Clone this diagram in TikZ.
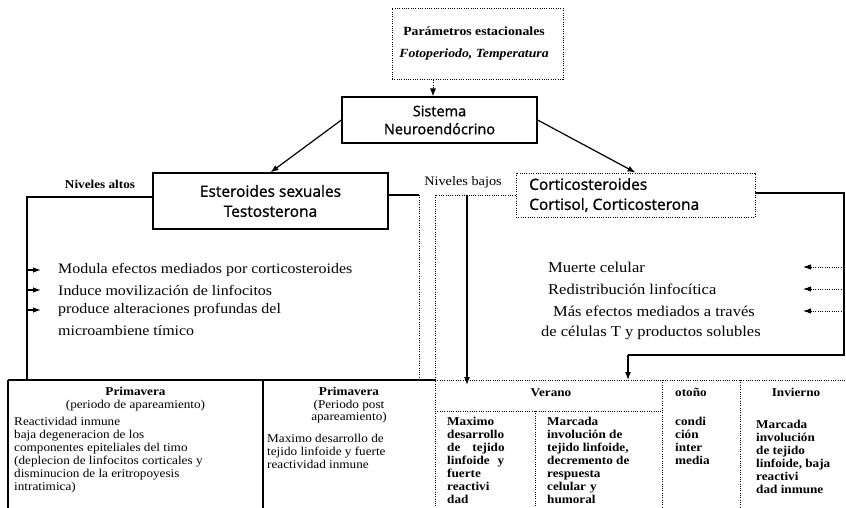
\documentclass[tikz,border=0pt]{standalone}
\usepackage{fontspec}
\setmainfont{Liberation Serif}[FakeStretch=1.1]
\newfontfamily\sansbox{Open Sans}[FakeBold=1.2]
\usetikzlibrary{arrows.meta}
\begin{document}
\begin{tikzpicture}[x=1pt,y=-1pt,
  solidbox/.style={draw, line width=1.2pt, inner sep=0pt},
  dotbox/.style={draw, line width=0.9pt, dash pattern=on 1pt off 1.3pt, inner sep=0pt},
  ln/.style={line width=1.2pt},
  dl/.style={line width=0.9pt, dash pattern=on 1pt off 1.3pt},
  tip/.style={-{Latex[length=8pt,width=6pt]}},
  smalltip/.style={-{Latex[length=8pt,width=5.5pt]}},
  btxt/.style={font=\fontsize{14.5}{17}\selectfont, inner sep=0pt, anchor=west},
  ctxt/.style={font=\fontsize{12}{13}\selectfont, inner sep=0pt, align=left, anchor=north west},
  cbtxt/.style={ctxt, font=\fontsize{12}{13}\selectfont\bfseries},
  htxt/.style={font=\fontsize{12}{12.5}\selectfont, inner sep=0pt, align=center, anchor=north},
  boxtxt/.style={font=\sansbox\fontsize{15.5}{20}\selectfont, align=center}
]
\useasboundingbox (0,0) rectangle (846,508);

% ---- boxes
\node[dotbox, minimum width=171pt, minimum height=71pt] (param) at (477.5,44) {};
\node[font=\fontsize{12.5}{15}\selectfont\bfseries, inner sep=0pt] (pt1) at (474,31) {Parámetros estacionales};
\node[font=\fontsize{12.5}{15}\selectfont\bfseries\itshape, inner sep=0pt] (pt2) at (474,54) {Fotoperiodo, Temperatura};

\node[solidbox, minimum width=195pt, minimum height=46pt, boxtxt, font=\sansbox\fontsize{14.5}{18}\selectfont] (sis) at (439.5,120) {Sistema\\Neuroendócrino};
\node[solidbox, minimum width=235pt, minimum height=56pt, boxtxt] (est) at (270.5,201) {Esteroides sexuales\\Testosterona};
\node[dotbox, minimum width=239pt, minimum height=44pt] (cort) at (635.5,195) {};
\node[boxtxt, align=left, anchor=west, inner sep=0pt] (cortt) at (529,195) {Corticosteroides\\Cortisol, Corticosterona};

\node[font=\fontsize{12}{13}\selectfont\bfseries] (alt) at (100,184) {Niveles altos};
\node[font=\fontsize{13}{14}\selectfont] (baj) at (463,182) {Niveles bajos};

% ---- coordinates
\coordinate (pa) at (433,0);
\coordinate (lc) at (27,197);
\coordinate (bt) at (0,380);
\coordinate (bb) at (0,508);
\coordinate (rc) at (419,195);
\coordinate (dc) at (435,195);
\coordinate (vc) at (467,195);
\coordinate (vt) at (0,385);
\coordinate (re) at (844,193);
\coordinate (rl) at (844,355);
\coordinate (ra) at (628,355);

% ---- connectors
\draw[dl, tip] (param.south -| pa) -- (sis.north -| pa);
\draw[ln, tip] (sis.west) -- (est.north);
\draw[ln, tip] (sis.east) -- (cort.north);

\draw[ln] (est.west |- lc) -- (lc) -- (lc |- bt);
\draw[ln] (est.east |- rc) -- (rc);
\draw[dl] (rc) -- (rc |- bt);
\draw[dl] (cort.west |- dc) -- (dc) -- (dc |- bb);
\draw[ln, tip] (vc) -- (vc |- vt);
\draw[ln] (cort.east |- re) -- (re) -- (rl) -- (ra);
\draw[ln, tip] (ra) -- (ra |- bt);

% ---- left bullets
\foreach \y/\n in {270/b1,290/b2,310/b3}{
  \coordinate (\n s) at (27,\y);
  \coordinate (\n e) at (41,\y);
  \draw[ln, smalltip] (\n s) -- (\n e);
}
\node[btxt] (m1) at (58,270) {Modula efectos mediados por corticosteroides};
\node[btxt] (m2) at (58,290) {Induce movilización de linfocitos};
\node[btxt] (m3) at (58,310) {produce alteraciones profundas del};
\node[btxt] (m4) at (58,331) {microambiene tímico};

% ---- right effects
\foreach \y/\n in {267/r1,289/r2,311/r3}{
  \coordinate (\n s) at (844,\y);
  \coordinate (\n e) at (803,\y);
  \draw[dl, smalltip] (\n s) -- (\n e);
}
\node[btxt, font=\fontsize{15}{17}\selectfont] (c1) at (548,267) {Muerte celular};
\node[btxt, font=\fontsize{15}{17}\selectfont] (c2) at (548,289) {Redistribución linfocítica};
\node[btxt, font=\fontsize{15}{17}\selectfont] (c3) at (553,311) {Más efectos mediados a través};
\node[btxt, font=\fontsize{15}{17}\selectfont] (c4) at (541,333) {de células T y productos solubles};

% ---- bottom grid
\coordinate (g0) at (8,380);
\coordinate (g1) at (263,380);
\coordinate (g2) at (435,380);
\coordinate (g3) at (535,411);
\coordinate (g4) at (662,380);
\coordinate (g5) at (740,380);
\coordinate (g6) at (846,380);
\draw[ln] (g0) -- (g2);
\draw[dl] (g2) -- (g6);
\draw[ln] (g0) -- (g0 |- bb);
\draw[ln] (g1) -- (g1 |- bb);
\draw[dl] (g4) -- (g4 |- bb);
\draw[dl] (g5) -- (g5 |- bb);
\draw[dl] (g2 |- g3) -- (g4 |- g3);
\draw[dl] (g3) -- (g3 |- bb);

% ---- cell texts
\node[htxt] (h1) at (135.5,387) {\textbf{Primavera}\\(periodo de apareamiento)};
\node[ctxt] (t1) at (14,417) {Reactividad inmune\\baja degeneracion de los\\componentes epiteliales del timo\\(deplecion de linfocitos corticales y\\disminucion de la eritropoyesis\\intratimica)};

\node[htxt] (h2) at (349,387) {\textbf{Primavera}\\(Periodo post\\apareamiento)};
\node[ctxt] (t2) at (267,434) {Maximo desarrollo de\\tejido linfoide y fuerte\\reactividad inmune};

\node[htxt] (h3) at (551,388) {\textbf{Verano}};
\node[cbtxt] (t3) at (447,417) {Maximo\\desarrollo\\de\hspace{12pt}tejido\\linfoide\hspace{8pt}y\\fuerte\\reactivi\\dad};
\node[cbtxt] (t4) at (547,417) {Marcada\\involución de\\tejido linfoide,\\decremento de\\respuesta\\celular\hspace{4pt}y\\humoral};

\node[cbtxt] (h4) at (675,388) {otoño};
\node[cbtxt] (t5) at (675,417) {condi\\ción\\inter\\media};

\node[htxt, font=\fontsize{12}{12.5}\selectfont\bfseries] (h5) at (796,388) {Invierno};
\node[cbtxt] (t6) at (756,420) {Marcada\\involución\\de tejido\\linfoide, baja\\reactivi\\dad inmune};
\end{tikzpicture}
\end{document}
